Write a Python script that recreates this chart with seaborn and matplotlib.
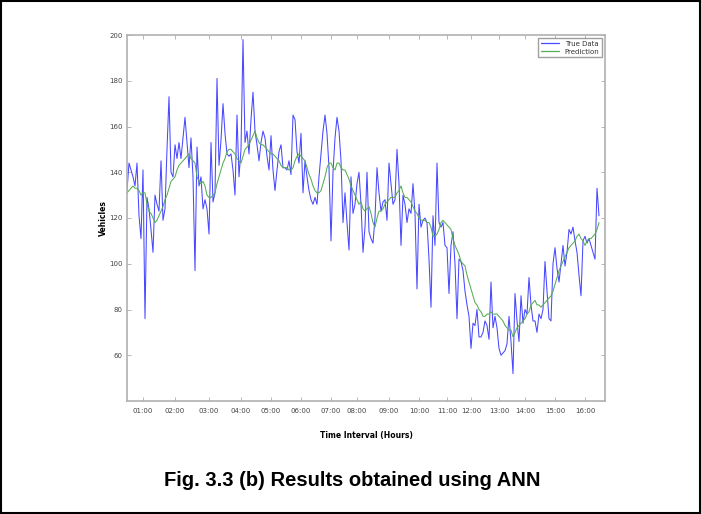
import numpy as np
import pandas as pd
import matplotlib
matplotlib.use('Agg')
import matplotlib.pyplot as plt
from matplotlib.patches import Rectangle
import seaborn as sns

# ── data (one value per time step) ──────────────────────────────────────────
true_data = [
    132, 144, 141, 138, 134, 144, 121, 111, 141, 76, 129, 124, 115, 105, 130, 126, 123, 145, 119, 124,
    150, 173, 140, 138, 152, 146, 153, 146, 155, 164, 153, 142, 155, 138, 97, 151, 134, 138, 124,
    128, 124, 113, 153, 127, 131, 181, 143, 154, 170, 157, 148, 147, 148, 141, 130, 165, 138, 150, 198,
    153, 158, 148, 163, 175, 158, 152, 145, 153, 158, 155, 147, 141, 156, 141, 132, 141, 149, 152, 142,
    142, 141, 145, 139, 165, 163, 149, 144, 157, 131, 145, 138, 132, 128, 126, 129, 126, 138, 148, 158,
    165, 157, 142, 110, 140, 155, 164, 158, 145, 118, 131, 118, 106, 138, 122, 126, 135, 140, 126, 105,
    116, 140, 114, 111, 109, 120, 142, 131, 123, 127, 128, 119, 144, 135, 126, 128, 150, 135, 108, 130,
    126, 118, 124, 122, 135, 122, 89, 126, 116, 119, 120, 118, 102, 81, 121, 108, 144, 118, 116, 118,
    108, 107, 87, 108, 114, 100, 76, 102, 101, 97, 88, 82, 77, 63, 74, 73, 80, 68, 68, 70,
    75, 73, 67, 92, 72, 77, 72, 63, 60, 61, 62, 65, 77, 66, 52, 87, 75, 66, 86, 74,
    80, 78, 94, 82, 75, 75, 70, 78, 76, 80, 101, 88, 76, 75, 100, 107, 98, 92, 100, 108,
    99, 105, 115, 113, 116, 110, 105, 95, 86, 110, 112, 109, 111, 108, 105, 102, 133, 121,
]

prediction = [
    131, 132, 133, 134, 133, 133, 132, 130, 131, 131, 126, 123, 122, 120, 118, 119, 121, 123, 125, 128,
    130, 133, 136, 137, 138, 141, 143, 144, 145, 146, 147, 148, 146, 145, 144, 138, 136, 135, 136,
    134, 130, 129, 129, 130, 131, 135, 138, 141, 144, 146, 149, 150, 150, 149, 148, 146, 145, 144, 147,
    150, 151, 152, 154, 156, 158, 155, 153, 152, 152, 151, 150, 149, 148, 148, 147, 146, 145, 143, 142,
    142, 142, 141, 141, 142, 145, 147, 148, 147, 146, 145, 142, 139, 137, 134, 132, 131, 131, 132, 135,
    138, 142, 144, 144, 142, 141, 144, 144, 142, 141, 141, 139, 137, 134, 132, 130, 128, 126, 127, 124,
    123, 124, 125, 122, 118, 116, 120, 123, 123, 124, 126, 127, 128, 129, 129, 129, 131, 132, 134, 131,
    129, 129, 128, 127, 125, 123, 122, 120, 119, 119, 119, 118, 118, 116, 112, 112, 113, 115, 118, 119,
    118, 117, 116, 115, 111, 108, 106, 104, 101, 100, 99, 95, 92, 89, 86, 83, 82, 80, 79, 77,
    77, 78, 78, 79, 78, 78, 78, 77, 76, 75, 73, 72, 71, 71, 68, 70, 72, 73, 74, 75,
    76, 78, 79, 82, 83, 84, 82, 82, 81, 82, 83, 84, 85, 86, 88, 91, 94, 97, 99, 101,
    103, 105, 107, 108, 109, 110, 112, 113, 111, 110, 108, 110, 111, 111, 112, 113, 115, 118,
]

# first sample of each hour and its label
hour_steps = [8, 24, 41, 57, 72, 87, 102, 115, 131, 146, 160, 172, 186, 199, 214, 229]
hour_labels = ['01:00', '02:00', '03:00', '04:00', '05:00', '06:00', '07:00', '08:00',
               '09:00', '10:00', '11:00', '12:00', '13:00', '14:00', '15:00', '16:00']
y_ticks = [60, 80, 100, 120, 140, 160, 180, 200]

df = pd.DataFrame({'step': range(len(true_data)),
                   'True Data': true_data,
                   'Prediction': prediction})
long = df.melt(id_vars='step', var_name='series', value_name='vehicles')
colors = {'True Data': '#4848ff', 'Prediction': '#55ad55'}

# ── plot ─────────────────────────────────────────────────────────────────────
sns.set_style('white')
plt.rcParams['font.family'] = ['DejaVu Sans']

fig = plt.figure(figsize=(7.01, 5.14), dpi=100)
ax = fig.add_axes([127/701, 1 - 401/514, 478/701, 366/514])

sns.lineplot(data=long, x='step', y='vehicles', hue='series',
             palette=colors, linewidth=0.75, ax=ax)

ax.set_xlim(0, 239)
ax.set_ylim(40, 200)
ax.set_xticks(hour_steps)
ax.set_xticklabels(hour_labels)
ax.set_yticks(y_ticks)
ax.tick_params(direction='in', length=3, width=0.6, colors='#aaaaaa',
               labelcolor='#444444', labelsize=5, top=True, right=True,
               bottom=True, left=True)
ax.tick_params(axis='x', pad=5)
ax.tick_params(axis='y', pad=3)
for s in ax.spines.values():
    s.set_color('#b0b0b0')
    s.set_linewidth(1.2)

ax.set_xlabel('Time Interval (Hours)', fontsize=5.5, fontweight='bold',
              labelpad=12, color='black')
ax.set_ylabel('Vehicles', fontsize=5.5, fontweight='bold', labelpad=1, color='black')

handles, labels = ax.get_legend_handles_labels()
leg = ax.legend(handles, labels, loc='upper right', fontsize=5, frameon=True,
                fancybox=False, edgecolor='#888888', handlelength=2.6,
                borderaxespad=0.4, borderpad=0.4, labelspacing=0.3)
for line, lab in zip(leg.get_lines(), labels):
    line.set_color(colors[lab])
    line.set_linewidth(0.9)
for t in leg.get_texts():
    t.set_color('#333333')

fig.text(0.502, 1 - 481/514, 'Fig. 3.3 (b) Results obtained using ANN',
         ha='center', va='center', fontsize=14.5, fontweight='bold', color='black',
         family=['Liberation Sans', 'DejaVu Sans'])

fig.patches.append(Rectangle((0.001, 0.001), 0.998, 0.997, transform=fig.transFigure,
                             fill=False, edgecolor='black', linewidth=1.5))

fig.savefig('out.png', dpi=100, facecolor='white')
